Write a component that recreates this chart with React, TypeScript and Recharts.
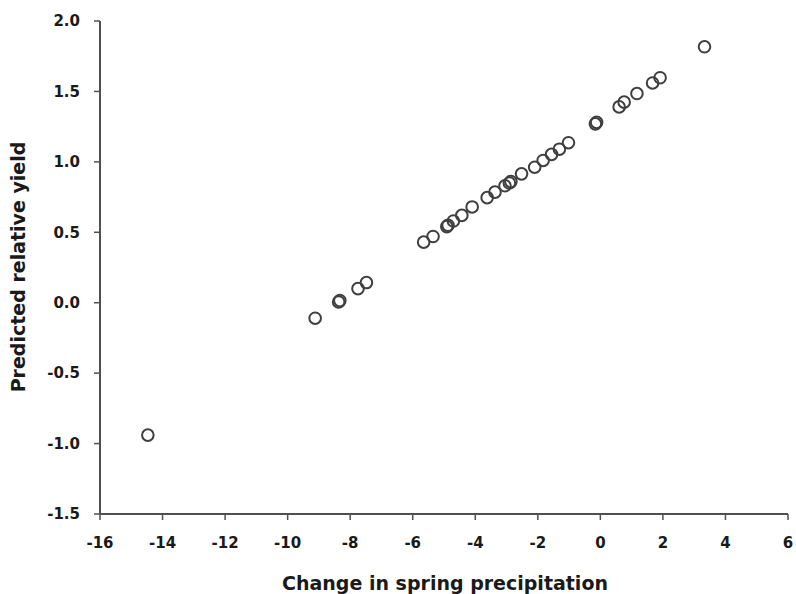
import React from 'react';
import { ScatterChart, Scatter, XAxis, YAxis, Label } from 'recharts';

// change in spring precipitation (x) vs predicted relative yield (y)
const precipChange = [
  -14.47, -9.12, -8.37, -8.33, -7.75, -7.48, -5.65, -5.35, -4.91, -4.87,
  -4.70, -4.43, -4.10, -3.62, -3.37, -3.05, -2.91, -2.86, -2.52, -2.10,
  -1.83, -1.56, -1.31, -1.02, -0.16, -0.12, 0.60, 0.76, 1.17, 1.67, 1.91, 3.33,
];
const relativeYield = [
  -0.94, -0.11, 0.005, 0.015, 0.10, 0.143, 0.43, 0.47, 0.54, 0.55,
  0.58, 0.62, 0.68, 0.746, 0.785, 0.83, 0.85, 0.86, 0.915, 0.962,
  1.01, 1.053, 1.09, 1.136, 1.27, 1.28, 1.39, 1.424, 1.485, 1.56, 1.597, 1.817,
];

const xTicks = [-16, -14, -12, -10, -8, -6, -4, -2, 0, 2, 4, 6];
const yTicks = [-1.5, -1.0, -0.5, 0.0, 0.5, 1.0, 1.5, 2.0];

const xTitle = 'Change in spring precipitation';
const yTitle = 'Predicted relative yield';

const points = precipChange.map((x, i) => ({ x, y: relativeYield[i] }));

const FONT = '"DejaVu Sans", sans-serif';
const AXIS = '#505050';

const tickStyle = { fontFamily: FONT, fontWeight: 700, fontSize: 15, fill: '#1a1a1a' };

const Ring = (props: any) => (
  <circle
    cx={props.cx}
    cy={props.cy}
    r={5.8}
    fill="none"
    stroke="#3f3f3f"
    strokeWidth={2}
  />
);

export default function App() {
  return (
    <div style={{ position: 'absolute', left: 0, top: 0, width: 796, height: 594, background: '#fff' }}>
      <ScatterChart width={796} height={594} margin={{ top: 21, right: 8, bottom: 0, left: 0 }}>
        <XAxis
          type="number"
          dataKey="x"
          domain={[-16, 6]}
          ticks={xTicks}
          interval={0}
          height={80}
          tickSize={6}
          tickMargin={17}
          tick={tickStyle}
          axisLine={{ stroke: AXIS, strokeWidth: 2 }}
          tickLine={{ stroke: AXIS, strokeWidth: 1.5 }}
        >
          <Label
            content={() => (
              <text
                x={445}
                y={590}
                textAnchor="middle"
                fontFamily={FONT}
                fontWeight={700}
                fontSize={19}
                fill="#1a1a1a"
              >
                {xTitle}
              </text>
            )}
          />
        </XAxis>
        <YAxis
          type="number"
          dataKey="y"
          domain={[-1.5, 2]}
          ticks={yTicks}
          interval={0}
          width={100}
          tickSize={6}
          tickMargin={14}
          tick={tickStyle}
          tickFormatter={(v: number) => v.toFixed(1)}
          axisLine={{ stroke: AXIS, strokeWidth: 2 }}
          tickLine={{ stroke: AXIS, strokeWidth: 1.5 }}
        >
          <Label
            content={() => (
              <text
                x={25}
                y={267}
                transform="rotate(-90 25 267)"
                textAnchor="middle"
                fontFamily={FONT}
                fontWeight={700}
                fontSize={19}
                fill="#1a1a1a"
              >
                {yTitle}
              </text>
            )}
          />
        </YAxis>
        <Scatter data={points} shape={Ring} isAnimationActive={false} />
      </ScatterChart>
    </div>
  );
}
